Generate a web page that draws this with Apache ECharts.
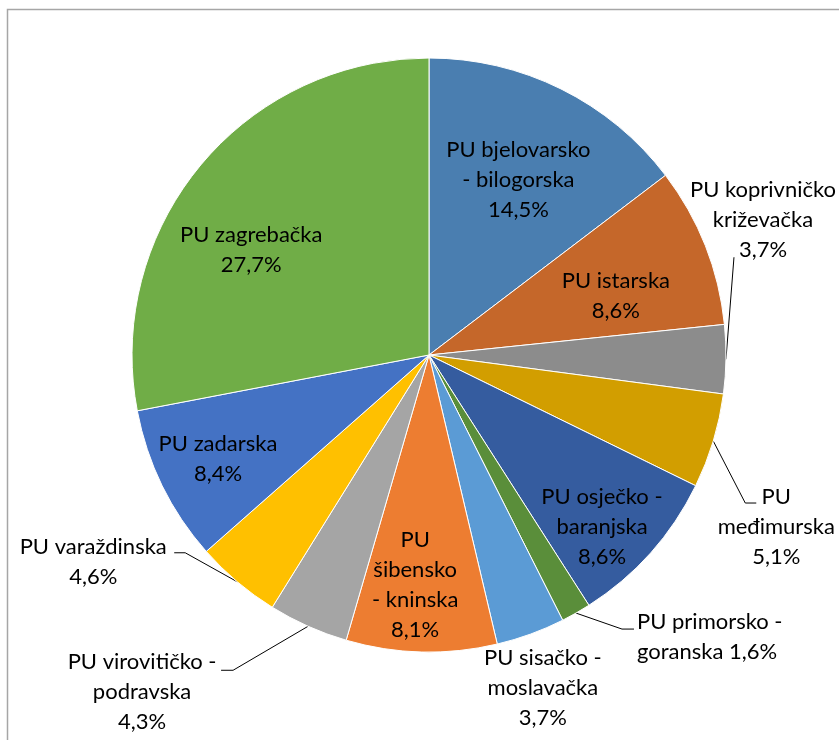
<!DOCTYPE html>
<html>
<head>
<meta charset="utf-8">
<script src="https://cdn.jsdelivr.net/npm/echarts@6/dist/echarts.min.js"></script>
<style>
  html, body { margin: 0; padding: 0; background: #fff; }
  #main { width: 839px; height: 740px; }
</style>
</head>
<body>
<div id="main"></div>
<script>
// slices clockwise from 12 o'clock
const categories = [
  'PU bjelovarsko\n- bilogorska',
  'PU istarska',
  'PU koprivničko\nkriževačka',
  'PU\nmeđimurska',
  'PU osječko -\nbaranjska',
  'PU primorsko -\ngoranska',
  'PU sisačko -\nmoslavačka',
  'PU\nšibensko\n- kninska',
  'PU virovitičko -\npodravska',
  'PU varaždinska',
  'PU zadarska',
  'PU zagrebačka'
]
const values = [14.5, 8.6, 3.7, 5.1, 8.6, 1.6, 3.7, 8.1, 4.3, 4.6, 8.4, 27.7]
const colors = ['#4a7eb0', '#c5672a', '#8c8c8c', '#d29e00', '#355c9f', '#5a8e3a',
  '#5b9bd5', '#ed7d31', '#a5a5a5', '#ffc000', '#4472c4', '#70ad47']

// label placement: inside labels are shifted from ECharts' default inner spot,
// outside labels are set from the rim point of the slice (leader bends + label centre)
const place = {
  0: { dx: 22, dy: -39 },
  1: { dx: 46, dy: -3 },
  2: { line: [[8, -102]], lx: 37, ly: -139 },
  3: { line: [[32, 62], [43, 62]], lx: 63, ly: 86 },
  4: { dx: 60, dy: 71 },
  5: { line: [[46, 16], [58, 16]], lx: 61, ly: 24, align: 'left' },
  6: { dx: 62, dy: 191 },
  7: { dx: -10, dy: 78 },
  8: { line: [[-75, 44], [-87, 44]], lx: -166, ly: 66 },
  9: { line: [[-52, -29], [-63, -29]], lx: -144, ly: -20 },
  10: { dx: -75, dy: 37 },
  11: { dx: -61, dy: -9 }
}

let myChart = echarts.init(document.getElementById('main'))

let data = values.map((v, i) => {
  let outside = !!place[i].line
  return {
    name: categories[i],
    value: v,
    itemStyle: { color: colors[i] },
    label: { position: outside ? 'outside' : 'inside' },
    labelLine: { show: outside }
  }
})

myChart.setOption({
  backgroundColor: '#fff',
  animation: false,
  graphic: [{
    type: 'rect',
    shape: { x: 7.5, y: 9.5, width: 900, height: 800 },
    style: { fill: 'none', stroke: '#a6a6a6', lineWidth: 1.5 },
    silent: true
  }],
  series: [{
    type: 'pie',
    center: [429, 355],
    radius: [0, 297],
    startAngle: 90,
    clockwise: true,
    avoidLabelOverlap: false,
    itemStyle: { borderColor: '#fff', borderWidth: 1 },
    label: {
      fontFamily: 'Lato',
      fontSize: 22,
      lineHeight: 30,
      color: '#000',
      overflow: 'none',
      formatter: p => p.name + (p.dataIndex === 5 ? ' ' : '\n') +
        p.value.toFixed(1).replace('.', ',') + '%'
    },
    labelLine: {
      lineStyle: { color: '#000', width: 1 }
    },
    emphasis: { disabled: true },
    labelLayout: function (params) {
      let p = place[params.dataIndex]
      if (p.line && params.labelLinePoints) {
        let a = params.labelLinePoints[0]
        let pts = [[a[0], a[1]]].concat(p.line.map(o => [a[0] + o[0], a[1] + o[1]]))
        if (pts.length < 3) pts.push(pts[1].slice())
        return {
          x: a[0] + p.lx,
          y: a[1] + p.ly,
          align: p.align || 'center',
          verticalAlign: 'middle',
          labelLinePoints: pts
        }
      }
      let r = params.labelRect
      return {
        x: r.x + r.width / 2 + (p.dx || 0),
        y: r.y + r.height / 2 + (p.dy || 0),
        align: 'center',
        verticalAlign: 'middle'
      }
    },
    data: data
  }]
})
</script>
</body>
</html>
